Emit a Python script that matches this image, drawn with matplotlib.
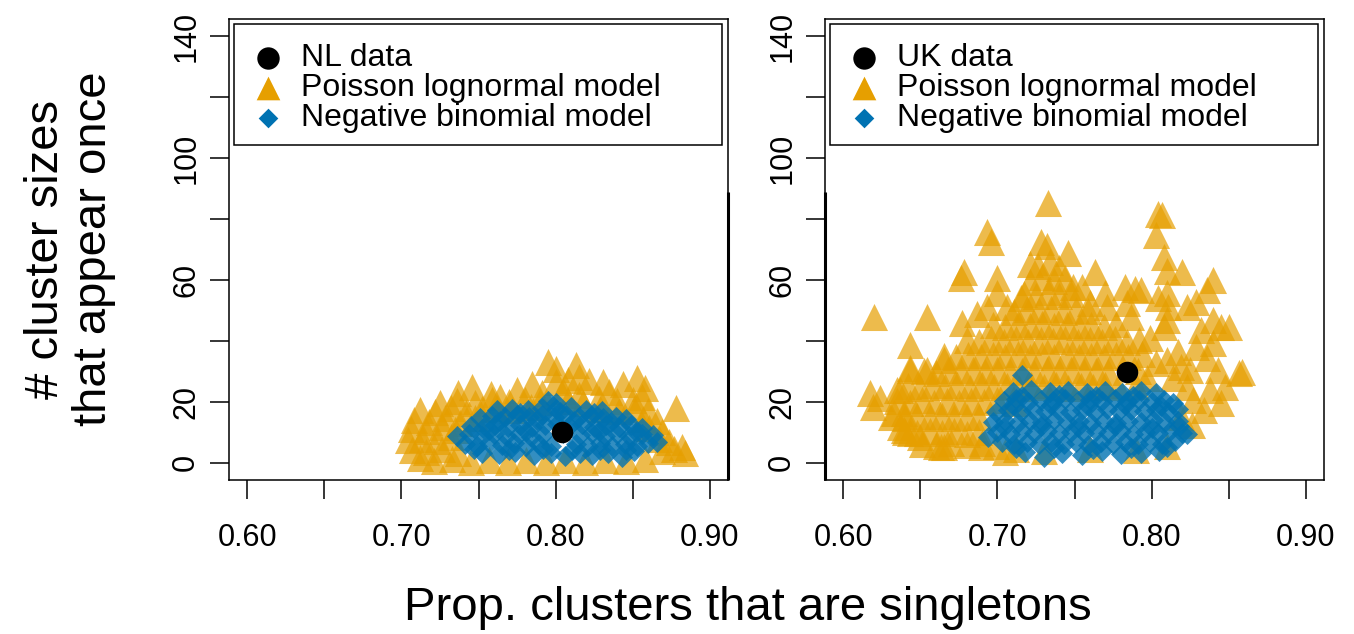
import numpy as np
import matplotlib.pyplot as plt
from matplotlib.patches import Rectangle

plt.rcParams['font.family'] = ['Liberation Sans', 'DejaVu Sans']

# observed data points (prop. singletons, # sizes appearing once)
nl_data = (0.804, 10.0)
uk_data = (0.784, 29.8)

# NL, Poisson lognormal simulations
nl_pln = [
    (0.712, 1.5), (0.721, 0.5), (0.733, 1.2), (0.745, 0.4), (0.757, 1.0), (0.769, 0.3), (0.781, 1.1),
    (0.794, 0.2), (0.806, 0.8), (0.819, 0.3), (0.832, 1.0), (0.846, 0.5), (0.858, 1.3),
    (0.707, 4.2), (0.716, 3.6), (0.726, 4.5), (0.737, 3.2), (0.869, 3.8), (0.877, 4.6), (0.884, 3.3),
    (0.704, 7.5), (0.713, 8.0), (0.723, 7.1), (0.732, 8.4), (0.867, 7.8), (0.874, 6.9), (0.882, 5.2),
    (0.706, 11.2), (0.716, 10.6), (0.726, 11.8), (0.735, 10.9), (0.861, 11.4), (0.869, 10.2),
    (0.708, 14.0), (0.718, 13.5), (0.728, 14.6), (0.738, 13.2), (0.748, 14.8), (0.857, 14.3), (0.866, 13.7),
    (0.712, 17.2), (0.722, 16.8), (0.732, 17.9), (0.742, 16.5), (0.752, 17.6), (0.762, 18.1), (0.772, 17.3),
    (0.784, 18.4), (0.829, 17.8), (0.841, 17.0), (0.851, 17.7), (0.860, 16.9), (0.878, 18.0),
    (0.725, 19.6), (0.736, 20.3), (0.748, 19.8), (0.759, 20.6), (0.770, 20.1), (0.780, 20.8), (0.790, 19.9),
    (0.808, 20.4), (0.818, 19.7), (0.828, 20.9), (0.840, 20.2), (0.850, 20.7), (0.856, 21.5),
    (0.737, 23.0), (0.746, 24.8), (0.758, 22.6), (0.775, 23.8), (0.785, 25.9), (0.791, 22.9), (0.805, 23.5),
    (0.815, 22.4), (0.822, 26.9), (0.835, 23.2), (0.844, 25.8), (0.858, 24.6),
    (0.800, 26.5), (0.831, 26.4), (0.853, 28.0), (0.815, 28.2), (0.808, 27.1), (0.795, 33.0),
    (0.800, 30.8), (0.813, 32.0), (0.764, 21.6),
]

# NL, negative binomial simulations
nl_nb = [
    (0.752, 3.4), (0.763, 2.8), (0.774, 3.6), (0.786, 2.6), (0.797, 3.1), (0.806, 2.2), (0.816, 3.3),
    (0.824, 2.5), (0.834, 3.4), (0.843, 1.9), (0.851, 3.8),
    (0.741, 6.2), (0.749, 5.5), (0.757, 6.4), (0.765, 5.8), (0.773, 6.6), (0.781, 5.7), (0.789, 6.3),
    (0.797, 5.6), (0.813, 6.1), (0.821, 5.4), (0.829, 6.5), (0.837, 5.7), (0.845, 6.2), (0.853, 5.5),
    (0.860, 6.6), (0.866, 6.9),
    (0.736, 8.7), (0.744, 9.4), (0.752, 8.8), (0.760, 9.6), (0.768, 8.9), (0.776, 9.5), (0.784, 8.6),
    (0.792, 9.3), (0.816, 9.1), (0.824, 9.7), (0.832, 8.8), (0.840, 9.4), (0.848, 8.7), (0.856, 9.6), (0.863, 9.0),
    (0.745, 12.1), (0.753, 11.6), (0.761, 12.5), (0.769, 11.8), (0.777, 12.6), (0.785, 11.9), (0.793, 12.4),
    (0.801, 12.9), (0.809, 12.2), (0.817, 12.7), (0.825, 11.8), (0.833, 12.4), (0.841, 11.7), (0.849, 12.3), (0.856, 11.5),
    (0.751, 14.8), (0.759, 15.4), (0.767, 14.9), (0.775, 15.6), (0.783, 15.1), (0.791, 15.8), (0.799, 15.2),
    (0.807, 15.7), (0.815, 15.0), (0.823, 15.5), (0.831, 14.7), (0.839, 15.1), (0.846, 14.3),
    (0.762, 17.2), (0.772, 17.8), (0.782, 17.4), (0.791, 18.1), (0.800, 17.6), (0.810, 18.2), (0.820, 17.3),
    (0.830, 16.9), (0.795, 20.3), (0.800, 19.6),
    (0.747, 4.5), (0.770, 4.4), (0.792, 4.6), (0.811, 4.2), (0.829, 4.4), (0.846, 4.1), (0.757, 10.8),
    (0.781, 10.6), (0.805, 9.8), (0.828, 10.5), (0.852, 10.3), (0.764, 13.8), (0.788, 14.0), (0.812, 13.7),
    (0.836, 13.5), (0.777, 16.5), (0.803, 16.8), (0.825, 16.4),
]

# UK, Poisson lognormal simulations
uk_pln = [
    (0.733, 85.2), (0.804, 81.8), (0.807, 81.2), (0.803, 74.6), (0.693, 75.6), (0.696, 72.3), (0.808, 67.4),
    (0.678, 62.5), (0.676, 60.5), (0.746, 68.7), (0.728, 72.3), (0.732, 71.0), (0.721, 65.4), (0.763, 62.5),
    (0.700, 60.5), (0.810, 63.0), (0.820, 62.5), (0.840, 60.0), (0.836, 56.6), (0.783, 57.6), (0.793, 56.6),
    (0.789, 57.2), (0.770, 55.6), (0.749, 57.6), (0.755, 57.6), (0.620, 47.8), (0.654, 47.8), (0.643, 38.6),
    (0.700, 55.6), (0.715, 54.0), (0.693, 51.0), (0.687, 49.0), (0.706, 51.0), (0.677, 45.8), (0.804, 54.0),
    (0.810, 55.6), (0.829, 52.7), (0.823, 51.0), (0.840, 46.8), (0.850, 44.5), (0.811, 51.0), (0.810, 46.8),
    (0.771, 51.0), (0.784, 52.3), (0.787, 47.8), (0.760, 52.3),
    (0.810, 33.7), (0.819, 31.4), (0.825, 30.4), (0.829, 38.0), (0.840, 39.3), (0.845, 44.5), (0.857, 29.4),
    (0.848, 25.0), (0.843, 30.4), (0.838, 23.9), (0.845, 19.6), (0.834, 17.3), (0.827, 20.6), (0.823, 25.0),
    (0.814, 28.0), (0.803, 32.7), (0.797, 28.0), (0.819, 15.0), (0.832, 43.5), (0.808, 44.5), (0.799, 41.0),
    (0.859, 29.8), (0.836, 34.5), (0.826, 12.5), (0.817, 36.5),
    (0.617, 22.9), (0.624, 21.3), (0.619, 18.3), (0.643, 30.4), (0.637, 23.9), (0.633, 16.4), (0.639, 10.8),
    (0.650, 8.5), (0.665, 5.2), (0.689, 5.2), (0.705, 3.6), (0.643, 31.0), (0.654, 30.4), (0.665, 33.7),
    (0.635, 24.0), (0.639, 16.4), (0.637, 11.8), (0.643, 9.8), (0.663, 5.2),
    (0.726, 64.5), (0.734, 66.0), (0.740, 63.8),
    (0.721, 59.5), (0.729, 61.0), (0.737, 59.8), (0.744, 60.6),
    (0.717, 55.3), (0.725, 54.6), (0.733, 56.0), (0.740, 54.8), (0.748, 55.4),
    (0.711, 49.6), (0.719, 50.4), (0.727, 49.8), (0.735, 50.6), (0.743, 49.5), (0.751, 50.2), (0.759, 49.7),
    (0.697, 45.2), (0.705, 44.6), (0.713, 45.5), (0.721, 44.8), (0.729, 45.6), (0.737, 44.9), (0.745, 45.4),
    (0.753, 44.7), (0.761, 45.3), (0.769, 44.6), (0.777, 45.5),
    (0.680, 40.3), (0.688, 39.6), (0.696, 40.5), (0.704, 39.8), (0.712, 40.6), (0.720, 39.7), (0.728, 40.4),
    (0.736, 39.9), (0.744, 40.7), (0.752, 39.6), (0.760, 40.3), (0.768, 39.8), (0.776, 40.5), (0.784, 39.7), (0.792, 40.2),
    (0.665, 35.2), (0.673, 34.6), (0.681, 35.5), (0.689, 34.8), (0.697, 35.4), (0.705, 34.7), (0.713, 35.6),
    (0.721, 34.9), (0.729, 35.3), (0.737, 34.6), (0.745, 35.5), (0.753, 34.8), (0.761, 35.2), (0.769, 34.7),
    (0.777, 35.4), (0.785, 34.9), (0.794, 35.6),
    (0.652, 30.2), (0.660, 29.6), (0.668, 30.5), (0.676, 29.8), (0.684, 30.4), (0.692, 29.7), (0.700, 30.6),
    (0.708, 29.9), (0.716, 30.3), (0.724, 29.6), (0.732, 30.5), (0.740, 29.8), (0.748, 30.4), (0.756, 29.7),
    (0.764, 30.3), (0.772, 29.8), (0.791, 30.2),
    (0.642, 25.3), (0.650, 24.7), (0.658, 25.5), (0.666, 24.8), (0.674, 25.4), (0.682, 24.6), (0.690, 25.6),
    (0.698, 24.9), (0.706, 25.3), (0.714, 24.7), (0.722, 25.5), (0.730, 24.8), (0.738, 25.4), (0.746, 24.7),
    (0.754, 25.3), (0.762, 24.9), (0.770, 25.5), (0.778, 24.8), (0.790, 25.2),
    (0.635, 20.2), (0.643, 19.7), (0.651, 20.5), (0.659, 19.8), (0.667, 20.4), (0.675, 19.6), (0.683, 20.3),
    (0.691, 19.9), (0.700, 20.6), (0.711, 19.8),
    (0.631, 15.1), (0.640, 14.7), (0.648, 15.4), (0.656, 14.8), (0.664, 15.5), (0.672, 14.6), (0.680, 15.2), (0.688, 14.9),
    (0.640, 10.3), (0.648, 9.7), (0.656, 10.5), (0.664, 9.8), (0.672, 10.4), (0.680, 9.6), (0.688, 10.2),
    (0.651, 6.2), (0.660, 5.6), (0.670, 6.4), (0.680, 5.8), (0.690, 6.5), (0.699, 5.7), (0.712, 4.6),
    (0.730, 4.0), (0.760, 4.5), (0.790, 4.2), (0.810, 5.5),
]

# UK, negative binomial simulations
uk_nb = [
    (0.718, 3.6), (0.730, 1.8), (0.742, 3.2), (0.755, 2.7), (0.768, 3.9), (0.780, 2.9), (0.793, 3.4), (0.805, 4.0),
    (0.703, 6.8), (0.711, 6.1), (0.719, 6.9), (0.727, 6.3), (0.735, 7.0), (0.743, 6.2), (0.751, 6.8), (0.759, 6.0),
    (0.767, 6.7), (0.775, 6.2), (0.783, 6.9), (0.791, 6.3), (0.799, 6.8), (0.807, 6.1), (0.815, 7.2),
    (0.694, 8.6), (0.700, 10.2), (0.708, 9.6), (0.716, 10.4), (0.724, 9.8), (0.732, 10.5), (0.740, 9.7),
    (0.748, 10.3), (0.756, 9.9), (0.764, 10.6), (0.772, 9.8), (0.780, 10.4), (0.788, 9.6), (0.796, 10.2),
    (0.804, 9.9), (0.812, 10.5), (0.820, 9.8), (0.823, 9.6),
    (0.697, 13.4), (0.705, 13.9), (0.713, 13.2), (0.721, 13.8), (0.729, 13.3), (0.737, 14.0), (0.745, 13.4),
    (0.753, 13.9), (0.761, 13.1), (0.769, 13.7), (0.777, 13.2), (0.785, 13.9), (0.793, 13.5), (0.801, 14.1),
    (0.809, 13.3), (0.817, 13.9),
    (0.699, 16.8), (0.707, 17.3), (0.715, 16.6), (0.723, 17.4), (0.731, 16.9), (0.739, 17.5), (0.747, 16.7),
    (0.755, 17.2), (0.763, 16.8), (0.771, 17.6), (0.779, 17.0), (0.787, 17.4), (0.795, 16.9), (0.803, 17.5),
    (0.811, 16.8), (0.817, 17.8),
    (0.704, 20.3), (0.712, 20.9), (0.720, 20.1), (0.728, 20.7), (0.736, 20.2), (0.744, 21.0), (0.752, 20.4),
    (0.760, 20.8), (0.768, 20.2), (0.776, 20.9), (0.784, 20.3), (0.792, 20.7), (0.800, 20.1), (0.808, 20.6),
    (0.814, 19.8),
    (0.710, 23.2), (0.722, 23.8), (0.734, 23.1), (0.746, 23.6), (0.758, 22.9), (0.770, 23.5), (0.781, 23.0),
    (0.793, 23.7), (0.803, 22.8), (0.716, 29.0),
    (0.712, 4.8), (0.737, 4.9), (0.762, 4.6), (0.787, 4.8), (0.810, 5.2), (0.704, 11.8), (0.728, 12.0),
    (0.752, 11.7), (0.776, 12.1), (0.800, 11.6), (0.818, 12.2), (0.711, 18.8), (0.735, 19.0), (0.759, 18.7),
    (0.783, 19.1), (0.806, 18.6), (0.716, 22.0), (0.740, 22.2), (0.764, 21.8), (0.788, 22.1),
]

x_ticks = [0.60, 0.65, 0.70, 0.75, 0.80, 0.85, 0.90]
x_ticklabels = ['0.60', '', '0.70', '', '0.80', '', '0.90']
y_ticks = [0, 20, 40, 60, 80, 100, 120, 140]
y_ticklabels = ['0', '20', '', '60', '', '100', '', '140']

orange = '#E69F00'
blue = '#0072B2'

fig = plt.figure(figsize=(13.54, 6.34), dpi=100)
ax_nl = fig.add_axes([229 / 1354, 1 - 480 / 634, 499 / 1354, 461 / 634])
ax_uk = fig.add_axes([825 / 1354, 1 - 480 / 634, 499 / 1354, 461 / 634])


def draw_panel(ax, pln, nb, obs, name, edge_x):
    pln = np.array(pln)
    nb = np.array(nb)
    ax.scatter(pln[:, 0], pln[:, 1], marker='^', s=380, color=orange, alpha=0.7, linewidths=0)
    ax.scatter(nb[:, 0], nb[:, 1], marker='D', s=115, color=blue, alpha=0.8, linewidths=0)
    ax.scatter([obs[0]], [obs[1]], marker='o', s=240, color='black', linewidths=0, zorder=5)

    ax.set_xlim(0.588, 0.912)
    ax.set_ylim(-5.6, 145.6)
    ax.set_xticks(x_ticks)
    ax.set_xticklabels(x_ticklabels)
    ax.set_yticks(y_ticks)
    ax.set_yticklabels(y_ticklabels, rotation=90, va='center')
    ax.tick_params(direction='out', length=14, width=1.1, pad=17, labelsize=22)
    ax.tick_params(axis='y', pad=6)
    for sp in ax.spines.values():
        sp.set_linewidth(1.1)
    # heavier stretch of the box side between the panels
    ax.plot([edge_x, edge_x], [0, 0.625], transform=ax.transAxes, color='black',
            lw=2.2, clip_on=False, solid_capstyle='butt')

    # legend box, drawn in axes coordinates
    ax.add_patch(Rectangle((0.010, 0.727), 0.978, 0.262, transform=ax.transAxes,
                           fill=False, edgecolor='black', lw=1.1))
    mx, tx = 0.078, 0.144
    rows = [0.916, 0.851, 0.786]
    ax.scatter([mx], [rows[0]], transform=ax.transAxes, marker='o', s=260, color='black', linewidths=0)
    ax.scatter([mx], [rows[1]], transform=ax.transAxes, marker='^', s=290, color=orange, linewidths=0)
    ax.scatter([mx], [rows[2]], transform=ax.transAxes, marker='D', s=100, color=blue, linewidths=0)
    labels = [name + ' data', 'Poisson lognormal model', 'Negative binomial model']
    for r, lab in zip(rows, labels):
        ax.text(tx, r, lab, transform=ax.transAxes, ha='left', va='center', fontsize=23)


draw_panel(ax_nl, nl_pln, nl_nb, nl_data, 'NL', 1.0)
draw_panel(ax_uk, uk_pln, uk_nb, uk_data, 'UK', 0.0)

fig.text(748 / 1354, 1 - 608 / 634, 'Prop. clusters that are singletons',
         ha='center', va='center', fontsize=34)
fig.text(70 / 1354, 1 - 249 / 634, '# cluster sizes\nthat appear once',
         ha='center', va='center', rotation=90, fontsize=34, linespacing=1.1)

fig.savefig('out.png', dpi=100)
